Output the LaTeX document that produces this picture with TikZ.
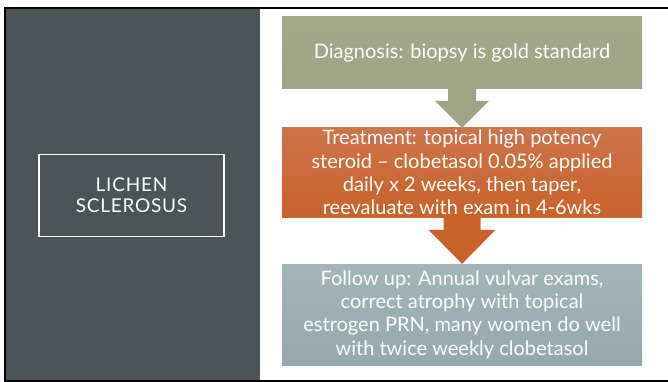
\documentclass[tikz,border=0pt]{standalone}
\usepackage{fontspec}
\setmainfont{Lato}
\usetikzlibrary{calc,positioning}
\definecolor{panel}{HTML}{4B5457}
\definecolor{sage}{HTML}{9EA484}
\definecolor{sagetop}{HTML}{A3A88A}
\definecolor{rust}{HTML}{C9612B}
\definecolor{rusttop}{HTML}{CE744A}
\definecolor{slate}{HTML}{95A8AD}
\definecolor{slatetop}{HTML}{A4B5B9}
\begin{document}
\begin{tikzpicture}[x=1pt,y=-1pt,
  stepbox/.style={minimum width=360pt,inner sep=0pt,align=center,text=white,
    font=\fontsize{20}{23.4}\selectfont},
  titlebox/.style={draw=white,line width=1.2pt,minimum width=185pt,minimum height=82pt,
    align=center,text=white,font=\fontsize{19}{21}\selectfont\addfontfeature{LetterSpace=4}}]
\useasboundingbox (0,0) rectangle (668,382);
\fill[white] (0,0) rectangle (668,382);
% panel izquierdo
\fill[panel] (5,8) rectangle (260,381);
\draw[line width=2.5pt] (668,8) -- (5.2,8) -- (5.2,381) -- (668,381);
\node[titlebox] (title) at (131.5,195.5) {LICHEN\\SCLEROSUS};
% cajas
\node[stepbox,minimum height=72pt,top color=sagetop,bottom color=sage] (diag) at (462,53)
  {Diagnosis: biopsy is gold standard};
\node[stepbox,minimum height=89pt,top color=rusttop,bottom color=rust] (treat) at (462,172.5)
  {Treatment: topical high potency\\steroid -- clobetasol 0.05\% applied\\daily x 2 weeks, then taper,\\reevaluate with exam in 4-6wks};
\node[stepbox,minimum height=101pt,top color=slatetop,bottom color=slate] (follow) at (462,314.5)
  {Follow up: Annual vulvar exams,\\correct atrophy with topical\\estrogen PRN, many women do well\\with twice weekly clobetasol};
% flechas
\fill[sage] ($(diag.south)+(-14,0)$) -- ($(diag.south)+(14,0)$) -- ($(treat.north)+(14,-27)$)
  -- ($(treat.north)+(27,-27)$) -- (treat.north) -- ($(treat.north)+(-27,-27)$)
  -- ($(treat.north)+(-14,-27)$) -- cycle;
\fill[rust] ($(treat.south)+(-18.5,0)$) -- ($(treat.south)+(18.5,0)$) -- ($(follow.north)+(18.5,-34)$)
  -- ($(follow.north)+(33.5,-34)$) -- (follow.north) -- ($(follow.north)+(-33.5,-34)$)
  -- ($(follow.north)+(-18.5,-34)$) -- cycle;
\end{tikzpicture}
\end{document}
